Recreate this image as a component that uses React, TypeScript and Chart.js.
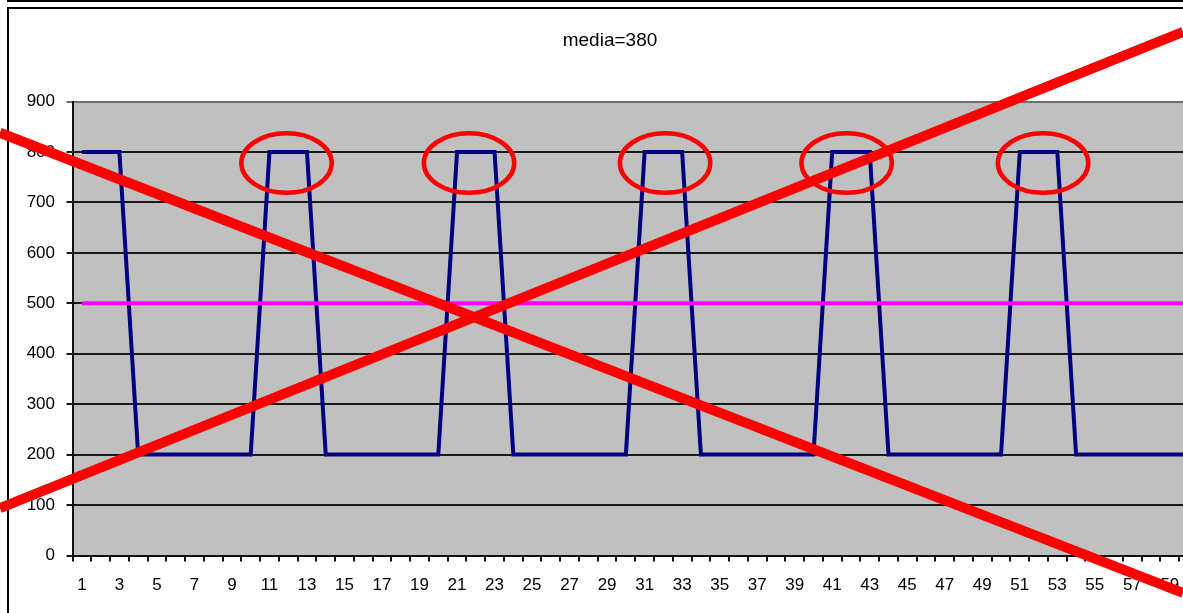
import { useEffect, useRef } from 'react'
import { Chart, registerables } from 'chart.js'

Chart.register(...registerables)

const categories = [
  '1', '2', '3', '4', '5', '6', '7', '8', '9', '10',
  '11', '12', '13', '14', '15', '16', '17', '18', '19', '20',
  '21', '22', '23', '24', '25', '26', '27', '28', '29', '30',
  '31', '32', '33', '34', '35', '36', '37', '38', '39', '40',
  '41', '42', '43', '44', '45', '46', '47', '48', '49', '50',
  '51', '52', '53', '54', '55', '56', '57', '58', '59', '60',
]

const flow = [
  800, 800, 800, 200, 200, 200, 200, 200, 200, 200,
  800, 800, 800, 200, 200, 200, 200, 200, 200, 200,
  800, 800, 800, 200, 200, 200, 200, 200, 200, 200,
  800, 800, 800, 200, 200, 200, 200, 200, 200, 200,
  800, 800, 800, 200, 200, 200, 200, 200, 200, 200,
  800, 800, 800, 200, 200, 200, 200, 200, 200, 200,
]

const media = [
  500, 500, 500, 500, 500, 500, 500, 500, 500, 500,
  500, 500, 500, 500, 500, 500, 500, 500, 500, 500,
  500, 500, 500, 500, 500, 500, 500, 500, 500, 500,
  500, 500, 500, 500, 500, 500, 500, 500, 500, 500,
  500, 500, 500, 500, 500, 500, 500, 500, 500, 500,
  500, 500, 500, 500, 500, 500, 500, 500, 500, 500,
]

// the red marks drawn over the chart, in (category index, value) units
const crossDown = [[-4.37, 838], [58.7, -74]]
const crossUp = [[-4.37, 94], [58.7, 1038]]
const circleCentres = [10.91, 20.64, 31.09, 40.77, 51.24]
const circleValue = 778
const circleRadius = [2.41, 59] // index units, value units

const FONT = 'Liberation Sans, Arial, sans-serif'

const plotBackground = {
  id: 'plotBackground',
  beforeDraw(chart: Chart) {
    const { ctx, chartArea: a } = chart
    ctx.save()
    ctx.fillStyle = '#c0c0c0'
    ctx.fillRect(a.left, a.top, a.right - a.left, a.bottom - a.top)
    ctx.restore()
  },
}

const redMarks = {
  id: 'redMarks',
  afterDraw(chart: Chart) {
    const { ctx } = chart
    const x = chart.scales.x
    const y = chart.scales.y
    ctx.save()
    ctx.strokeStyle = '#ff0000'
    ctx.lineCap = 'butt'
    ctx.lineWidth = 10
    for (const seg of [crossDown, crossUp]) {
      ctx.beginPath()
      ctx.moveTo(x.getPixelForValue(seg[0][0]), y.getPixelForValue(seg[0][1]))
      ctx.lineTo(x.getPixelForValue(seg[1][0]), y.getPixelForValue(seg[1][1]))
      ctx.stroke()
    }
    ctx.lineWidth = 4.5
    for (const c of circleCentres) {
      const cx = x.getPixelForValue(c)
      const cy = y.getPixelForValue(circleValue)
      const rx = x.getPixelForValue(c + circleRadius[0]) - cx
      const ry = cy - y.getPixelForValue(circleValue + circleRadius[1])
      ctx.beginPath()
      ctx.ellipse(cx, cy, rx, ry, 0, 0, Math.PI * 2)
      ctx.stroke()
    }
    ctx.restore()
  },
}

function MediaChart() {
  const ref = useRef<HTMLCanvasElement>(null)
  const inst = useRef<Chart | null>(null)

  useEffect(() => {
    if (!ref.current) return
    if (inst.current) inst.current.destroy()

    inst.current = new Chart(ref.current, {
      type: 'line',
      data: {
        labels: categories,
        datasets: [
          {
            label: 'media',
            data: media,
            borderColor: '#ff00ff',
            borderWidth: 4,
            pointRadius: 0,
            tension: 0,
            borderCapStyle: 'butt',
          },
          {
            label: 'valori',
            data: flow,
            borderColor: '#000080',
            borderWidth: 4,
            pointRadius: 0,
            tension: 0,
            borderJoinStyle: 'miter',
            borderCapStyle: 'butt',
          },
        ],
      },
      plugins: [plotBackground, redMarks],
      options: {
        responsive: false,
        animation: false,
        layout: { padding: { left: 22, right: 22, top: 0, bottom: 44.5 } },
        plugins: {
          legend: { display: false },
          tooltip: { enabled: false },
          title: {
            display: true,
            text: 'media=380',
            color: '#000',
            font: { family: FONT, size: 19, weight: 'normal', lineHeight: 1.2 },
            padding: { top: 29, bottom: 49.7 },
          },
        },
        scales: {
          x: {
            offset: true,
            grid: { offset: true, drawOnChartArea: false, color: '#111', tickLength: 6, lineWidth: 2 },
            border: { color: '#111', width: 2 },
            ticks: {
              autoSkip: false,
              maxRotation: 0,
              color: '#000',
              padding: 14,
              font: { family: FONT, size: 17 },
              callback: (_v, i) => (i % 2 === 0 ? categories[i] : ''),
            },
            afterFit: (s) => { s.height = 50 },
          },
          y: {
            min: 0,
            max: 900,
            grid: {
              color: (c) => (c.tick && c.tick.value === 900 ? '#6f6f6f' : '#1a1a1a'),
              lineWidth: 2,
              tickLength: 6,
            },
            border: { color: '#111', width: 2 },
            ticks: {
              stepSize: 100,
              color: '#000',
              padding: 11.5,
              font: { family: FONT, size: 17 },
            },
            afterFit: (s) => { s.width = 50.5 },
          },
        },
      },
    })

    return () => inst.current?.destroy()
  }, [])

  return (
    <canvas
      ref={ref}
      width={1220}
      height={650}
      style={{ position: 'absolute', left: 0, top: 0, width: 1220, height: 650 }}
    />
  )
}

export default function App() {
  return (
    <div style={{ position: 'fixed', left: 0, top: 0, width: 1183, height: 613, overflow: 'hidden', background: '#fff' }}>
      <div style={{ position: 'absolute', left: 7, top: -28, width: 1300, height: 30, border: '2px solid #000', boxSizing: 'border-box' }} />
      <div style={{ position: 'absolute', left: 7, top: 7, width: 1300, height: 700, border: '2px solid #000', boxSizing: 'border-box', background: '#fff' }} />
      <MediaChart />
    </div>
  )
}
